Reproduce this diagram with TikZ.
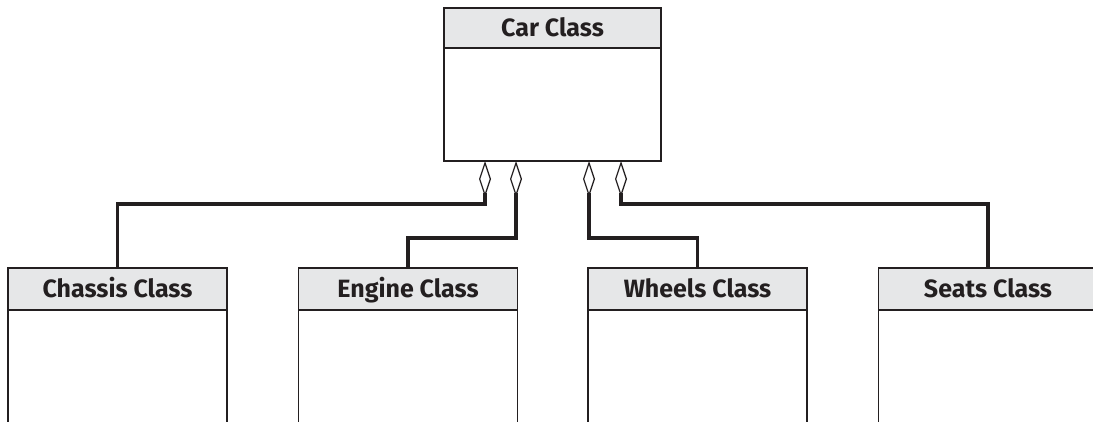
\documentclass[tikz,border=0pt]{standalone}
\usepackage{fontspec}
\setmainfont{Fira Sans}
\usetikzlibrary{positioning,arrows.meta}
\definecolor{headgray}{HTML}{E6E7E8}
\definecolor{inkline}{HTML}{231F20}

\begin{document}
\begin{tikzpicture}[
  x=1pt, y=-1pt,
  every node/.style={font=\fontsize{25}{30}\selectfont\bfseries, text=inkline},
  classhead/.style={rectangle, draw=inkline, line width=1.6pt, fill=headgray,
                    minimum width=219pt, minimum height=42pt, inner sep=0pt, outer sep=0pt,
                    text height=17pt, text depth=0pt},
  classbody/.style={rectangle, draw=inkline, line width=1.6pt, fill=white,
                    minimum width=219pt, minimum height=160pt, inner sep=0pt, outer sep=0pt},
  agg/.style={{Diamond[open, length=36pt, width=12pt, line width=1.2pt]}-,
              line width=3.2pt, draw=inkline}
]
\useasboundingbox (0,0) rectangle (1093,421);
\clip (0,0) rectangle (1093,421);

% whole class
\node[classhead, minimum width=217pt, minimum height=40pt] (car) at (552.5,28) {Car Class};
\node[classbody, minimum width=217pt, minimum height=113pt, below=0pt of car] (carbody) {};

% part classes
\node[classhead] (chassis) at (117.5,289) {Chassis Class};
\node[classhead] (engine) at (408,289) {Engine Class};
\node[classhead] (wheels) at (697.5,289) {Wheels Class};
\node[classhead] (seats) at (988,289) {Seats Class};
\foreach \p in {chassis, engine, wheels, seats}
  \node[classbody, below=0pt of \p] (\p body) {};

% aggregation links
\draw[agg] ([xshift=-67.5pt]carbody.south) -- ++(0,43) -| (chassis.north);
\draw[agg] ([xshift=-36.5pt]carbody.south) -- ++(0,77) -| (engine.north);
\draw[agg] ([xshift=36.5pt]carbody.south) -- ++(0,77) -| (wheels.north);
\draw[agg] ([xshift=68.5pt]carbody.south) -- ++(0,43) -| (seats.north);
\end{tikzpicture}
\end{document}
